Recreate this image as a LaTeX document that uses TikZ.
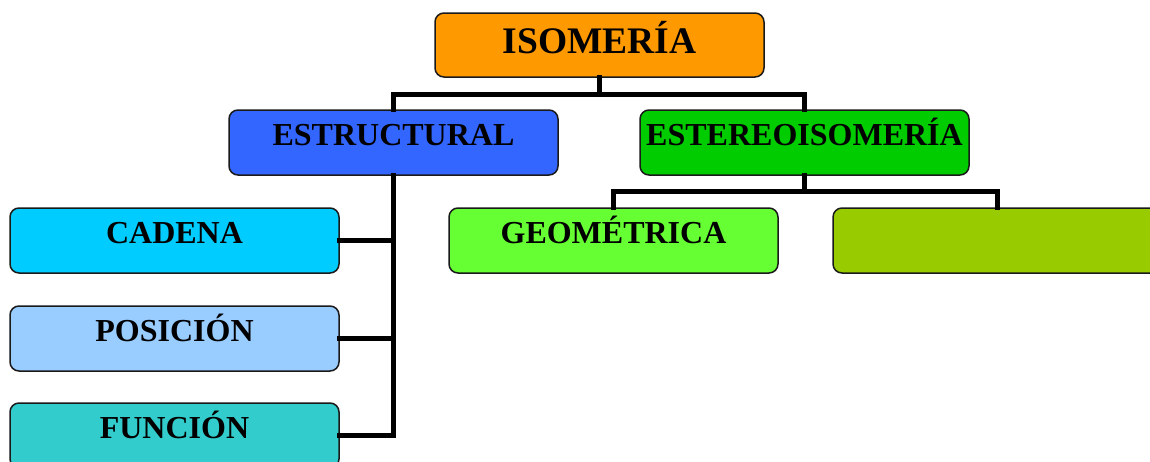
\documentclass[tikz,border=0pt]{standalone}
\usepackage{fontspec}
\setmainfont{Liberation Serif}
\definecolor{cIso}{HTML}{FF9900}
\definecolor{cEst}{HTML}{3366FF}
\definecolor{cSter}{HTML}{00CC00}
\definecolor{cCad}{HTML}{00CCFF}
\definecolor{cPos}{HTML}{99CCFF}
\definecolor{cFun}{HTML}{33CCCC}
\definecolor{cGeo}{HTML}{66FF33}
\definecolor{cOpt}{HTML}{99CC00}
\definecolor{cBorder}{HTML}{1A1A1A}
\tikzset{
  box/.style={rectangle, rounded corners=9pt, draw=cBorder, line width=1.5pt,
    minimum width=329pt, minimum height=65pt, inner sep=0pt,
    font=\fontsize{32}{36}\selectfont\bfseries, text height=22pt, text depth=16pt},
  topbox/.style={box, minimum height=64pt,
    font=\fontsize{37.5}{40}\selectfont\bfseries, text height=28pt, text depth=12pt},
  link/.style={line width=5.5pt, black, line join=miter, line cap=rect}
}
\begin{document}
\begin{tikzpicture}[x=1pt,y=-1pt]
\useasboundingbox (0,0) rectangle (1150,461);
\clip (0,0) rectangle (1150,461);
\fill[white] (0,0) rectangle (1150,461);
% junction coordinates
\coordinate (j1) at (599.5,94.5);
\coordinate (j2) at (805.5,191.5);
% boxes (positions)
\path
  (599.5,45) node[topbox, fill=cIso] (iso) {ISOMERÍA}
  (393.5,142.5) node[box, fill=cEst] (est) {ESTRUCTURAL}
  (804.5,142.5) node[box, fill=cSter] (ster) {ESTEREOISOMERÍA}
  (174.5,240.5) node[box, fill=cCad] (cad) {CADENA}
  (174.5,338.5) node[box, fill=cPos] (pos) {POSICIÓN}
  (174.5,435.5) node[box, fill=cFun] (fun) {FUNCIÓN}
  (613.5,240.5) node[box, fill=cGeo] (geo) {GEOMÉTRICA}
  (997.5,240.5) node[box, fill=cOpt] (opt) {};
% connectors
\begin{scope}[on background layer/.style={}]
\draw[link] (iso.south) -- (iso.south |- j1);
\draw[link] (est.north) -- (est.north |- j1) -- (ster.north |- j1) -- (ster.north);
\draw[link] (est.south) -- (est.south |- fun.east) -- (fun.east);
\draw[link] (cad.east) -- (cad.east -| est.south);
\draw[link] (pos.east) -- (pos.east -| est.south);
\draw[link] (ster.south) -- (ster.south |- j2);
\draw[link] (geo.north) -- (geo.north |- j2) -- (opt.north |- j2) -- (opt.north);
\end{scope}
\end{tikzpicture}
\end{document}
